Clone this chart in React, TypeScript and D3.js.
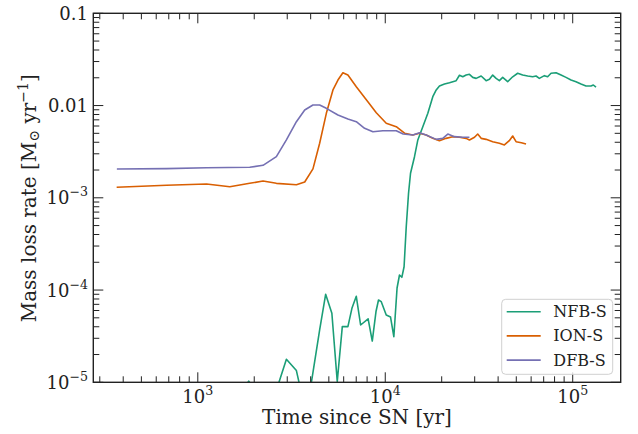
import React from "react";
import * as d3 from "d3";

const nfbTime = [1674, 1869, 2088, 2604, 2710, 2969, 3357, 3467, 3718, 4036, 4467, 4808, 5190, 5545, 5900, 6320, 6640, 7006, 7388, 8102, 8525, 8924, 9204, 9521, 10120, 10670, 11110, 11560, 11910, 12260, 12600, 12940, 13310, 13640, 14320, 14920, 15860, 16870, 17930, 18700, 19460, 20700, 22010, 23890, 24880, 25910, 27010, 28120, 29290, 30540, 32480, 34520, 35960, 37430, 39030, 40610, 42320, 44980, 47840, 50870, 54090, 57520, 61150, 63760, 66370, 70620, 73500, 76640, 81470, 86640, 92110, 97940, 104100, 110700, 117700, 125200, 128800, 133100];
const nfbRate = [7.3e-6, 1.03e-5, 7.3e-6, 7.3e-6, 1.0e-5, 1.775e-5, 1.34e-5, 1.0e-5, 7.3e-6, 1.0e-5, 3.69e-5, 9.0e-5, 5.6e-5, 1.02e-5, 4.01e-5, 4.01e-5, 6.34e-5, 8.55e-5, 4.18e-5, 4.88e-5, 2.8e-5, 5.85e-5, 7.8e-5, 7.48e-5, 5.36e-5, 5.1e-5, 3.12e-5, 1.052e-4, 1.456e-4, 1.375e-4, 1.79e-4, 4.86e-4, 1.12e-3, 1.845e-3, 2.79e-3, 4.24e-3, 5.9e-3, 8.24e-3, 1.247e-2, 1.476e-2, 1.63e-2, 1.712e-2, 1.77e-2, 1.86e-2, 2.13e-2, 2.05e-2, 2.14e-2, 2.18e-2, 2.02e-2, 1.97e-2, 2.09e-2, 1.86e-2, 1.925e-2, 2.14e-2, 1.97e-2, 1.86e-2, 2.02e-2, 1.813e-2, 2.05e-2, 2.24e-2, 2.14e-2, 2.09e-2, 2.05e-2, 2.09e-2, 1.97e-2, 2.11e-2, 2.05e-2, 2.24e-2, 2.27e-2, 2.14e-2, 2.02e-2, 1.89e-2, 1.813e-2, 1.712e-2, 1.63e-2, 1.63e-2, 1.67e-2, 1.58e-2];

const ionTime = [369, 681, 1113, 1481, 1892, 2228, 2625, 3357, 3718, 4114, 4467, 4849, 5260, 5592, 5943, 6320, 7006, 8076, 8956, 10120, 11446, 12670, 14030, 15230, 16530, 17930, 19450, 21100, 22880, 24880, 27000, 28120, 29940, 31130, 32480, 34520, 37430, 40610, 43200, 45890, 47840, 49870, 53220, 56360];
const ionRate = [1.3e-3, 1.366e-3, 1.41e-3, 1.32e-3, 1.435e-3, 1.52e-3, 1.435e-3, 1.387e-3, 1.483e-3, 2.06e-3, 3.9e-3, 8.24e-3, 1.476e-2, 1.89e-2, 2.27e-2, 2.14e-2, 1.6e-2, 1.1e-2, 8.37e-3, 6.43e-3, 5.9e-3, 5.01e-3, 4.8e-3, 5.01e-3, 4.8e-3, 4.41e-3, 4.16e-3, 4.41e-3, 4.6e-3, 4.53e-3, 4.41e-3, 4.24e-3, 4.53e-3, 4.91e-3, 4.41e-3, 4.3e-3, 4.06e-3, 3.9e-3, 3.74e-3, 4.16e-3, 4.68e-3, 4.06e-3, 3.96e-3, 3.83e-3];

const dfbTime = [370, 681, 1113, 1892, 2228, 2625, 2969, 3357, 3718, 4114, 4467, 4849, 5592, 6320, 7006, 7757, 8590, 9710, 11446, 12460, 14030, 15230, 16530, 18700, 20270, 21560, 23390, 25910, 28120];
const dfbRate = [2.05e-3, 2.07e-3, 2.12e-3, 2.14e-3, 2.25e-3, 2.79e-3, 4.24e-3, 6.68e-3, 8.95e-3, 1.015e-2, 1.015e-2, 9.33e-3, 7.9e-3, 7.15e-3, 6.68e-3, 5.67e-3, 5.2e-3, 5.34e-3, 5.34e-3, 4.91e-3, 4.8e-3, 5.08e-3, 4.8e-3, 4.3e-3, 4.41e-3, 4.91e-3, 4.6e-3, 4.53e-3, 4.53e-3];

const seriesNames = ["NFB-S", "ION-S", "DFB-S"];
const seriesColors = ["#1b9e77", "#d95f02", "#7570b3"];

const xMajorTicks = [1e3, 1e4, 1e5];
const xTickExps = ["3", "4", "5"];
const yMajorTicks = [1e-1, 1e-2, 1e-3, 1e-4, 1e-5];
const yTickLabels = ["0.1", "0.01", "10|\u22123", "10|\u22124", "10|\u22125"];

const W = 638, H = 434;
const L = 93.3, R = 620.7, T = 13.3, B = 382.3;
const FONT = "DejaVu Serif";

function minorTicks(lo: number, hi: number) {
  const out: number[] = [];
  for (let e = Math.floor(Math.log10(lo)); e <= Math.ceil(Math.log10(hi)); e++) {
    for (let k = 2; k <= 9; k++) {
      const v = k * Math.pow(10, e);
      if (v >= lo && v <= hi) out.push(v);
    }
  }
  return out;
}

export default function App() {
  const x = d3.scaleLog().domain([277, 180300]).range([L, R]);
  const y = d3.scaleLog().domain([1e-5, 0.1]).range([B, T]);
  const line = d3
    .line<[number, number]>()
    .x((d) => x(d[0]))
    .y((d) => y(d[1]));
  const data = [
    d3.zip(nfbTime, nfbRate) as [number, number][],
    d3.zip(ionTime, ionRate) as [number, number][],
    d3.zip(dfbTime, dfbRate) as [number, number][],
  ];
  const xMinor = minorTicks(277, 180300);
  const yMinor = minorTicks(1e-5, 0.1);
  const axisColor = "#222";
  const tickFs = 18;
  const majorLen = 10, minorLen = 6;

  return (
    <svg width={W} height={H} style={{ position: "absolute", left: 0, top: 0, background: "#fff" }}>
      <defs>
        <clipPath id="plot">
          <rect x={L} y={T} width={R - L} height={B - T} />
        </clipPath>
      </defs>
      <g clipPath="url(#plot)" fill="none" strokeWidth={1.6} strokeLinejoin="round">
        {data.map((d, i) => (
          <path key={i} d={line(d) || ""} stroke={seriesColors[i]} />
        ))}
      </g>
      {/* ticks */}
      <g stroke={axisColor} strokeWidth={1}>
        {xMajorTicks.map((v) => (
          <g key={"xM" + v}>
            <line x1={x(v)} x2={x(v)} y1={B} y2={B - majorLen} />
            <line x1={x(v)} x2={x(v)} y1={T} y2={T + majorLen} />
          </g>
        ))}
        {xMinor.map((v) => (
          <g key={"xm" + v}>
            <line x1={x(v)} x2={x(v)} y1={B} y2={B - minorLen} />
            <line x1={x(v)} x2={x(v)} y1={T} y2={T + minorLen} />
          </g>
        ))}
        {yMajorTicks.map((v) => (
          <g key={"yM" + v}>
            <line x1={L} x2={L + majorLen} y1={y(v)} y2={y(v)} />
            <line x1={R} x2={R - majorLen} y1={y(v)} y2={y(v)} />
          </g>
        ))}
        {yMinor.map((v) => (
          <g key={"ym" + v}>
            <line x1={L} x2={L + minorLen} y1={y(v)} y2={y(v)} />
            <line x1={R} x2={R - minorLen} y1={y(v)} y2={y(v)} />
          </g>
        ))}
      </g>
      <rect x={L} y={T} width={R - L} height={B - T} fill="none" stroke={axisColor} strokeWidth={1.4} />
      {/* x tick labels */}
      <g fontFamily={FONT} fill="#222" fontSize={tickFs}>
        {xMajorTicks.map((v, i) => (
          <text key={"xl" + v} x={x(v)} y={403} textAnchor="middle">
            10
            <tspan fontSize={tickFs * 0.7} dy={-8}>{xTickExps[i]}</tspan>
          </text>
        ))}
        {yMajorTicks.map((v, i) => {
          const parts = yTickLabels[i].split("|");
          return (
            <text key={"yl" + v} x={88} y={y(v) + 6.5} textAnchor="end">
              {parts[0]}
              {parts[1] ? (
                <tspan fontSize={tickFs * 0.7} dy={-8}>{parts[1]}</tspan>
              ) : null}
            </text>
          );
        })}
      </g>
      {/* axis labels */}
      <text x={(L + R) / 2} y={424} textAnchor="middle" fontFamily={FONT} fontSize={20} fill="#222">
        Time since SN [yr]
      </text>
      <text
        transform={`translate(36, ${(T + B) / 2 + 0.5}) rotate(-90)`}
        textAnchor="middle"
        fontFamily={FONT}
        fontSize={20}
        fill="#222"
      >
        Mass loss rate [M<tspan fontSize={14} dy={3}>{"\u2299"}</tspan>
        <tspan dy={-3}> yr</tspan>
        <tspan fontSize={14} dy={-8}>{"\u22121"}</tspan>
        <tspan dy={8}>]</tspan>
      </text>
      {/* legend */}
      <g>
        <rect x={501.7} y={299.3} width={111} height={75} rx={4} fill="#fff" fillOpacity={0.8} stroke="#d0d0d0" strokeWidth={1} />
        {seriesNames.map((n, i) => {
          const cy = 311.7 + i * 24.2;
          return (
            <g key={n}>
              <line x1={506.7} x2={540.7} y1={cy} y2={cy} stroke={seriesColors[i]} strokeWidth={1.6} />
              <text x={553.3} y={cy + 5.5} fontFamily={FONT} fontSize={16} fill="#222">
                {n}
              </text>
            </g>
          );
        })}
      </g>
    </svg>
  );
}
